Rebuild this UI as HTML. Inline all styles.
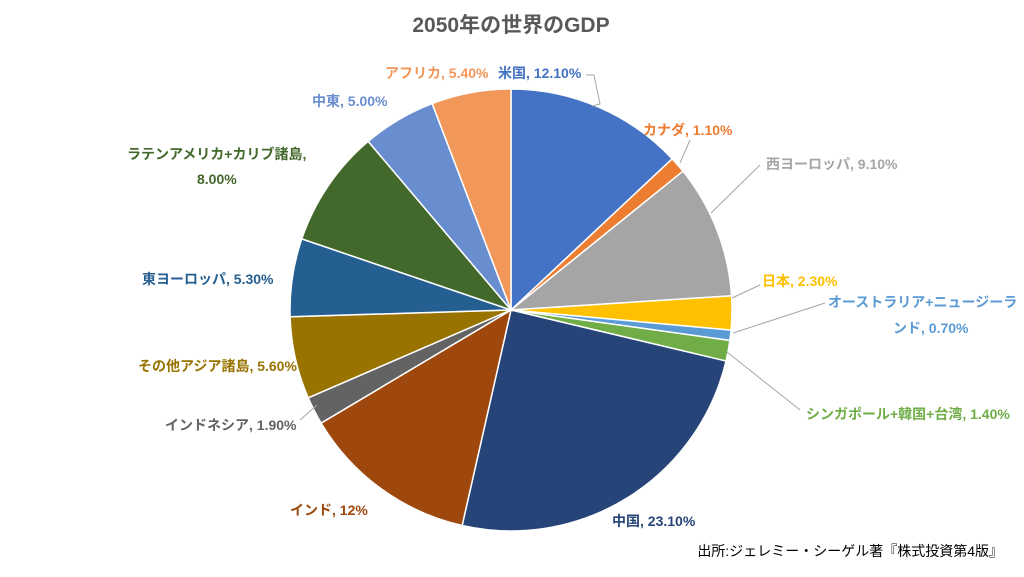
<!DOCTYPE html>
<html><head><meta charset="utf-8"><style>
body{margin:0;background:#fff;}
svg text{font-family:"Liberation Sans","Noto Sans CJK JP",sans-serif;font-size:14px;font-weight:bold;}
</style></head><body>
<svg id="s" width="1024" height="572" xmlns="http://www.w3.org/2000/svg">
<text x="511" y="32" text-anchor="middle" style="font-size:21px;fill:#595959">2050年の世界のGDP</text>
<g id="pie"></g>
<g fill="none" stroke="#a6a6a6" stroke-width="1">
<polyline points="592,106 600,104 594,75 586,75"/>
<polyline points="680,163 690,140"/>
<polyline points="711,213 760,165"/>
<polyline points="732,298 760,285"/>
<polyline points="733,333 825,303"/>
<polyline points="727,352 800,410"/>
<polyline points="317,405 300,420"/>
</g>
<text x="498" y="78" style="fill:#4472C4">米国, 12.10%</text>
<text x="643" y="135" style="fill:#ED7D31">カナダ, 1.10%</text>
<text x="766" y="169" style="fill:#A5A5A5">西ヨーロッパ, 9.10%</text>
<text x="762" y="286" style="fill:#FFC000">日本, 2.30%</text>
<text x="828" y="307" style="fill:#5B9BD5">オーストラリア+ニュージーラ</text>
<text x="893" y="333" style="fill:#5B9BD5">ンド, 0.70%</text>
<text x="806" y="419" style="fill:#70AD47">シンガポール+韓国+台湾, 1.40%</text>
<text x="612" y="526" style="fill:#264478">中国, 23.10%</text>
<text x="290" y="515" style="fill:#9E480E">インド, 12%</text>
<text x="165" y="430" style="fill:#636363">インドネシア, 1.90%</text>
<text x="138" y="371" style="fill:#997300">その他アジア諸島, 5.60%</text>
<text x="142" y="284" style="fill:#255E91">東ヨーロッパ, 5.30%</text>
<text x="127" y="159" style="fill:#43682B">ラテンアメリカ+カリブ諸島,</text>
<text x="197" y="184" style="fill:#43682B">8.00%</text>
<text x="312" y="106" style="fill:#698ED0">中東, 5.00%</text>
<text x="385" y="78" style="fill:#F1975A">アフリカ, 5.40%</text>
<text x="1003" y="556" text-anchor="end" style="font-weight:normal;fill:#000;font-size:14px">出所:ジェレミー・シーゲル著『株式投資第4版』</text>
</svg>
<script>
var d=[[12.1,"#4472C4"],[1.1,"#ED7D31"],[9.1,"#A5A5A5"],[2.3,"#FFC000"],[0.7,"#5B9BD5"],[1.4,"#70AD47"],[23.1,"#264478"],[12,"#9E480E"],[1.9,"#636363"],[5.6,"#997300"],[5.3,"#255E91"],[8,"#43682B"],[5,"#698ED0"],[5.4,"#F1975A"]];
var cx=511,cy=310,r=221,t=0,a=0,g=document.getElementById("pie"),h="";
d.forEach(function(x){t+=x[0];});
d.forEach(function(x){var a2=a+x[0]/t*2*Math.PI;
var x1=cx+r*Math.sin(a),y1=cy-r*Math.cos(a),x2=cx+r*Math.sin(a2),y2=cy-r*Math.cos(a2);
h+='<path d="M'+cx+','+cy+' L'+x1+','+y1+' A'+r+','+r+' 0 '+((a2-a)>Math.PI?1:0)+' 1 '+x2+','+y2+' Z" fill="'+x[1]+'" stroke="#fff" stroke-width="1.5"/>';a=a2;});
g.innerHTML=h;
</script>
</body></html>
